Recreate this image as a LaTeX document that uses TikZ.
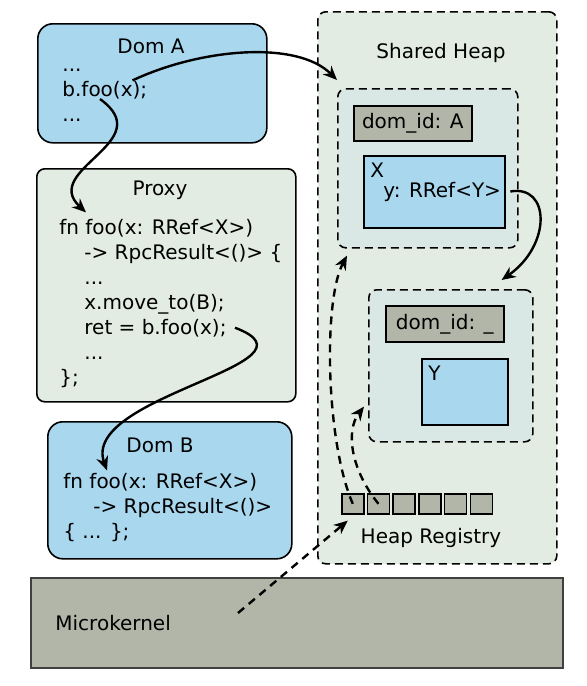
\documentclass[tikz,border=0pt]{standalone}
\usepackage{fontspec}
\setmainfont{DejaVu Sans}
\usetikzlibrary{arrows.meta}
\definecolor{domblue}{RGB}{169,215,238}
\definecolor{paleggreen}{RGB}{227,236,226}
\definecolor{regiongreen}{RGB}{217,232,228}
\definecolor{idgray}{RGB}{178,182,168}

\begin{document}
\begin{tikzpicture}[x=0.5pt, y=-0.5pt, font=\fontsize{10}{12}\selectfont,
    boxbase/.style={draw, line width=0.8pt, anchor=north west, inner sep=0},
    dom/.style={boxbase, fill=domblue, rounded corners=7.5pt},
    proxybox/.style={boxbase, fill=paleggreen, rounded corners=4pt},
    heapbox/.style={boxbase, fill=paleggreen, rounded corners=4pt, dash pattern=on 4pt off 2.5pt},
    regionbox/.style={boxbase, fill=regiongreen, rounded corners=4pt, dash pattern=on 4pt off 2.5pt},
    idbox/.style={boxbase, fill=idgray},
    objbox/.style={boxbase, fill=domblue},
    cellbox/.style={boxbase, fill=idgray, minimum width=11pt, minimum height=10pt},
    code/.style={anchor=base west, inner sep=0},
    heading/.style={anchor=base, inner sep=0},
    call/.style={-{Stealth[length=7pt,width=6pt]}, line width=1.2pt},
    ref/.style={call, dash pattern=on 4pt off 3pt}]
    \useasboundingbox (0,0) rectangle (587,686);
    \node[dom, minimum width=114.5pt, minimum height=59.5pt] (doma) at (37,23) {};
    \node[proxybox, minimum width=129.5pt, minimum height=116.5pt] (proxy) at (36,168) {};
    \node[dom, minimum width=122pt, minimum height=68.5pt] (domb) at (47,421) {};
    \node[boxbase, draw=black!75, fill=idgray, minimum width=266pt, minimum height=45pt] (kernel) at (30,577) {};
    \node[heapbox, minimum width=119.5pt, minimum height=276pt] (heap) at (317,11) {};
    \node[regionbox, minimum width=90pt, minimum height=79.5pt] (rega) at (337,88) {};
    \node[idbox, minimum width=59pt, minimum height=17.5pt] (ida) at (353,105) {dom\_id: A};
    \node[objbox, minimum width=70.5pt, minimum height=36pt] (objx) at (363,155) {};
    \node[regionbox, minimum width=82pt, minimum height=76pt] (regb) at (368,289) {};
    \node[idbox, minimum width=59pt, minimum height=18pt] (idb) at (385,305) {dom\_id: \_};
    \node[objbox, minimum width=43pt, minimum height=33pt] (objy) at (421,358) {};
    \foreach \i in {1,...,6}
        \node[cellbox] (r\i) at ({341+25.7*(\i-1)},493) {};
    \node[heading] (atitle) at (151,53) {Dom A};
    \node[code] (adots1) at (62,71) {...};
    \node[code] (acall) at (62,96) {b.foo(x);};
    \node[code] (adots2) at (62,121) {...};
    \node[heading] (ptitle) at (160,195) {Proxy};
    \node[code] (pfn) at (59,234) {fn foo(x: RRef<X>)};
    \node[code] (pres) at (84,259) {-> RpcResult<()> \{};
    \node[code] (pdots1) at (84,284) {...};
    \node[code] (pmove) at (84,309) {x.move\_to(B);};
    \node[code] (pret) at (84,334) {ret = b.foo(x);};
    \node[code] (pdots2) at (84,359) {...};
    \node[code] (pend) at (59,384) {\};};
    \node[heading] (btitle) at (160,452) {Dom B};
    \node[code] (dfn) at (63,488) {fn foo(x: RRef<X>)};
    \node[code] (dres) at (93,513) {-> RpcResult<()>};
    \node[code] (dbody) at (63,538) {\{ ... \};};
    \node[code] (klabel) at (55,630) {Microkernel};
    \node[heading] (hlabel) at (441,58) {Shared Heap};
    \node[code] (xlabel) at (370,177) {X};
    \node[code] (yref) at (383,197) {y: RRef<Y>};
    \node[code] (ylabel) at (428,380) {Y};
    \node[heading] (rlabel) at (431,543) {Heap Registry};
    \draw[call] ([xshift=-7.5pt]acall.north east) .. controls +(68,-32) and +(-40,-40) .. ([yshift=4pt]rega.north west);
    \draw[call] ([xshift=19pt]acall.south west) .. controls +(60,43) and +(-46,-43) .. ([xshift=13.5pt,yshift=3pt]pfn.north west);
    \draw[call] ([xshift=4.5pt]yref.east) .. controls +(40,-7) and +(50,-35) .. ([xshift=-16pt,yshift=4.5pt]regb.north east);
    \draw[call] ([xshift=4pt]pret.east) .. controls +(96,36) and +(-27,-75) .. ([xshift=22pt,yshift=1pt]dfn.north west);
    \draw[ref] (r1.center) .. controls +(-27,-62) and +(-24,45) .. ([xshift=5pt,yshift=-3.5pt]rega.south west);
    \draw[ref] (r2.center) .. controls +(-27,-33) and +(-19,25) .. ([xshift=-2pt,yshift=18pt]regb.south west);
    \draw[ref] ([xshift=104pt,yshift=-18pt]kernel.north west) -- ([xshift=-2.5pt,yshift=-3pt]r1.south);
\end{tikzpicture}
\end{document}
